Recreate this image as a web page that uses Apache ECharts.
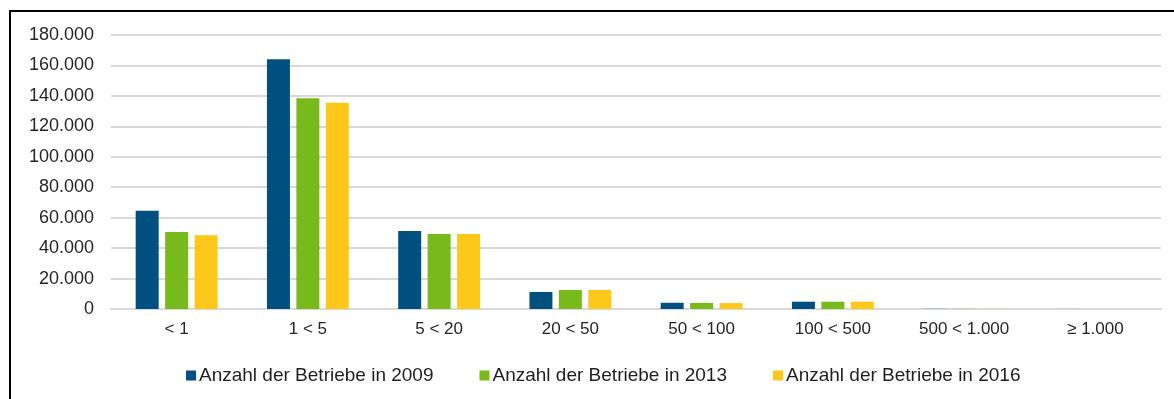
<!DOCTYPE html>
<html>
<head>
<meta charset="utf-8">
<script src="https://cdn.jsdelivr.net/npm/echarts@6/dist/echarts.min.js"></script>
<style>
  html, body { margin: 0; padding: 0; background: #fff; }
  #chart { width: 1174px; height: 399px; }
  #frame {
    position: absolute; left: 9px; top: 10px; width: 1200px; height: 420px;
    border-left: 2px solid #000; border-top: 2px solid #000;
    pointer-events: none;
  }
</style>
</head>
<body>
<div id="chart"></div>
<div id="frame"></div>
<script>
// Betriebsgrößenklassen (Hektar)
const categories = ['< 1', '1 < 5', '5 < 20', '20 < 50', '50 < 100', '100 < 500', '500 < 1.000', '\u2265 1.000'];
const seriesNames = ['Anzahl der Betriebe in 2009', 'Anzahl der Betriebe in 2013', 'Anzahl der Betriebe in 2016'];
const betriebe2009 = [64500, 164000, 51300, 11200, 4100, 4800, 100, 30];
const betriebe2013 = [50600, 138500, 49300, 12500, 4000, 4800, 100, 30];
const betriebe2016 = [48400, 135500, 49300, 12500, 3900, 4800, 100, 30];
const yTicks = [0, 20000, 40000, 60000, 80000, 100000, 120000, 140000, 160000, 180000];

const colors = ['#02507f', '#78b91b', '#fec81a'];
const font = 'Liberation Sans, Arial, sans-serif';

function deNumber(v) {
  return String(v).replace(/\B(?=(\d{3})+(?!\d))/g, '.');
}

const chart = echarts.init(document.getElementById('chart'), null, { renderer: 'canvas' });
const values = [betriebe2009, betriebe2013, betriebe2016];

chart.setOption({
  animation: false,
  color: colors,
  textStyle: { fontFamily: font },
  grid: { left: 111, right: 13, top: 35, bottom: 90, containLabel: false },
  legend: {
    left: 181,
    top: 361,
    itemWidth: 10,
    itemHeight: 10,
    itemGap: 46,
    icon: 'rect',
    textStyle: { fontFamily: font, fontSize: 19, color: '#1f1f1f', padding: [0, 0, 0, -2] },
    data: seriesNames
  },
  xAxis: {
    type: 'category',
    data: categories,
    axisLine: { lineStyle: { color: '#d9d9d9', width: 2 } },
    axisTick: { show: false },
    axisLabel: { fontFamily: font, fontSize: 17, color: '#262626', margin: 12 }
  },
  yAxis: {
    type: 'value',
    min: yTicks[0],
    max: yTicks[yTicks.length - 1],
    interval: yTicks[1] - yTicks[0],
    axisLine: { show: false },
    axisTick: { show: false },
    splitLine: { lineStyle: { color: '#d9d9d9', width: 2 } },
    axisLabel: { fontFamily: font, fontSize: 18, color: '#262626', margin: 17, formatter: deNumber }
  },
  series: seriesNames.map((name, i) => ({
    name: name,
    type: 'bar',
    data: values[i],
    barWidth: 23,
    barGap: '28%',
    itemStyle: { color: colors[i] }
  }))
});
</script>
</body>
</html>
